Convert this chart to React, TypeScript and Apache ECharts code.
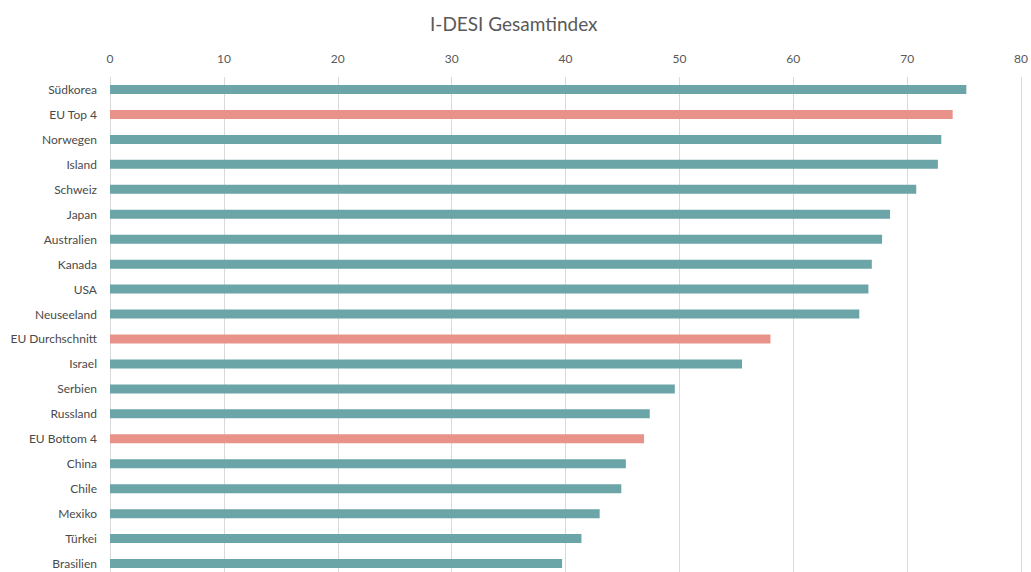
import React, { useEffect, useRef } from "react";
import * as echarts from "echarts";

const categories = [
  "Südkorea", "EU Top 4", "Norwegen", "Island", "Schweiz", "Japan", "Australien",
  "Kanada", "USA", "Neuseeland", "EU Durchschnitt", "Israel", "Serbien", "Russland",
  "EU Bottom 4", "China", "Chile", "Mexiko", "Türkei", "Brasilien",
];
const values = [
  75.2, 74.0, 73.0, 72.7, 70.8, 68.5, 67.8, 66.9, 66.6, 65.8,
  58.0, 55.5, 49.6, 47.4, 46.9, 45.3, 44.9, 43.0, 41.4, 39.7,
];
const euGroups = ["EU Top 4", "EU Durchschnitt", "EU Bottom 4"];
const xTicks = { min: 0, max: 80, interval: 10 };

const TEAL = "#6ba5a7";
const SALMON = "#e9928a";
const FONT = "Lato, 'Open Sans', sans-serif";

export default function App() {
  const ref = useRef<HTMLDivElement>(null);
  useEffect(() => {
    if (!ref.current) return;
    const chart = echarts.init(ref.current, null, { renderer: "svg" });
    chart.setOption({
      animation: false,
      backgroundColor: "#ffffff",
      title: {
        text: "I-DESI Gesamtindex",
        left: 425,
        top: 9,
        textStyle: { fontFamily: FONT, fontSize: 19, fontWeight: "normal", color: "#595959" },
      },
      // the last row runs a few pixels past the visible page edge
      grid: { left: 110, right: 10, top: 77, bottom: 0, containLabel: false },
      xAxis: {
        type: "value",
        position: "top",
        min: xTicks.min,
        max: xTicks.max,
        interval: xTicks.interval,
        axisLine: { show: false },
        axisTick: { show: false },
        axisLabel: { margin: 13, fontFamily: FONT, fontSize: 12, color: "#595959" },
        splitLine: { show: true, lineStyle: { color: "#d9d9d9", width: 1 } },
      },
      yAxis: {
        type: "category",
        inverse: true,
        data: categories,
        axisLine: { show: true, lineStyle: { color: "#d9d9d9" } },
        axisTick: { show: false },
        axisLabel: { margin: 13, fontFamily: FONT, fontSize: 12, color: "#4a4a4a" },
      },
      series: [
        {
          type: "bar",
          barWidth: 9,
          data: values.map((v, i) => ({
            value: v,
            itemStyle: { color: euGroups.includes(categories[i]) ? SALMON : TEAL },
          })),
        },
      ],
    });
    return () => chart.dispose();
  }, []);
  return (
    <div
      ref={ref}
      style={{ position: "fixed", left: 0, top: 0, width: 1031, height: 576, background: "#fff" }}
    />
  );
}
